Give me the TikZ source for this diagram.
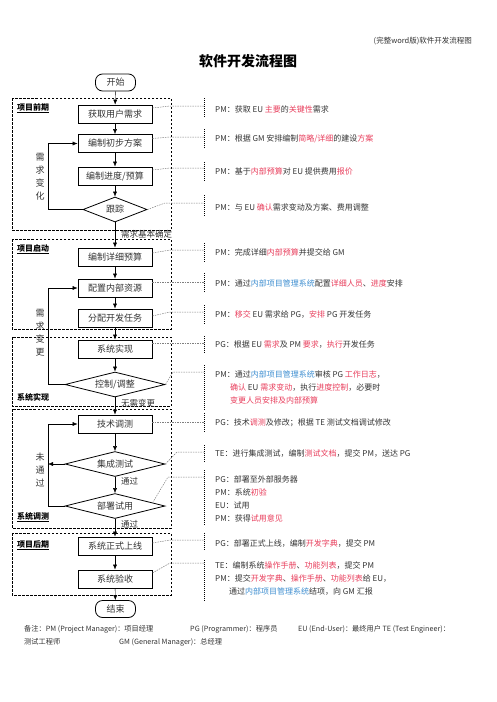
\documentclass[tikz,border=0pt]{standalone}
\usepackage{fontspec}
\setmainfont{Noto Sans CJK SC}
\usepackage{tikz}
\usetikzlibrary{shapes.geometric}
\usetikzlibrary{arrows.meta}
\tikzset{>={Latex[width=4pt,length=5pt]}}
\usepackage{color}
\definecolor{keyred}{RGB}{232,62,92}
\definecolor{keyblue}{RGB}{62,142,208}
\definecolor{ink}{RGB}{51,51,51}
\newcommand{\hl}[1]{\textcolor{keyred}{#1}}
\newcommand{\sys}[1]{\textcolor{keyblue}{#1}}
\tikzset{
  stepbox/.style={draw=black, line width=0.8pt, minimum width=74pt, minimum height=18pt,
    inner sep=0pt, text=ink, font=\fontsize{9pt}{9pt}\selectfont},
  choice/.style={diamond, aspect=4, draw=black, line width=0.8pt, minimum width=100pt,
    minimum height=25pt, inner sep=0pt, text=ink, font=\fontsize{9pt}{9pt}\selectfont},
  terminal/.style={draw=black, line width=0.8pt, rounded corners=7pt, minimum width=40pt,
    minimum height=17pt, inner sep=0pt, text=ink, font=\fontsize{9pt}{9pt}\selectfont},
  phase/.style={line width=0.8pt, dash pattern=on 2.5pt off 1.5pt},
  phasename/.style={anchor=west, inner sep=0pt, font=\fontsize{8pt}{8pt}\selectfont\bfseries},
  sidetag/.style={align=center, inner sep=0pt, text=ink, font=\fontsize{9pt}{13pt}\selectfont},
  flowtag/.style={anchor=west, inner sep=0pt, text=ink, font=\fontsize{8.5pt}{8.5pt}\selectfont},
  notebar/.style={line width=0.8pt, dash pattern=on 1pt off 1pt},
  notelink/.style={gray, line width=0.5pt, dash pattern=on 1.5pt off 1pt},
  notetext/.style={anchor=west, align=left, inner sep=0pt, text=ink,
    font=\fontsize{8pt}{13pt}\selectfont},
  footnote/.style={anchor=west, inner sep=0pt, text=ink, font=\fontsize{7.2pt}{7.2pt}\selectfont},
}

\begin{document}
\begin{tikzpicture}[x=1pt, y=-1pt]
    \useasboundingbox (0,0) rectangle (496,702);

    \node[anchor=east, inner sep=0pt, text=ink, font=\fontsize{7.5pt}{7.5pt}\selectfont] (doctag) at (472,41) {(完整word版)软件开发流程图};
    \node[font=\fontsize{14pt}{14pt}\selectfont\bfseries] (title) at (248,61) {软件开发流程图};

    % phases
    \draw[phase] (12,98) rectangle (171,230);
    \draw[phase] (12,239) rectangle (171,329);
    \draw[phase] (12,337) rectangle (171,406);
    \draw[phase] (12,409) rectangle (171,528);
    \draw[phase] (12,533) rectangle (171,595);
    \node[phasename] (ph-early) at (17,108) {\underline{项目前期}};
    \node[phasename] (ph-launch) at (17,249) {\underline{项目启动}};
    \node[phasename] (ph-impl) at (17,397) {系统实现};
    \node[phasename] (ph-test) at (17,517) {\underline{系统调测}};
    \node[phasename] (ph-late) at (17,545) {\underline{项目后期}};

    % main column
    \node[terminal] (start) at (115.5,82.5) {开始};
    \node[stepbox] (getreq) at (115,114) {获取用户需求};
    \node[stepbox] (plan) at (115,143.5) {编制初步方案};
    \node[stepbox] (sched) at (115,176) {编制进度/预算};
    \node[choice, minimum width=64pt] (track) at (115,209.5) {跟踪};
    \node[stepbox] (budget) at (115,257) {编制详细预算};
    \node[stepbox] (alloc) at (115,288) {配置内部资源};
    \node[stepbox] (assign) at (115,318) {分配开发任务};
    \node[stepbox] (impl) at (115,349) {系统实现};
    \node[choice] (ctrl) at (115,384.5) {控制/调整};
    \node[stepbox] (techtest) at (115,424) {技术调测};
    \node[choice] (integ) at (115,464) {集成测试};
    \node[choice] (deploy) at (115,506) {部署试用};
    \node[stepbox] (golive) at (115,546) {系统正式上线};
    \node[stepbox] (accept) at (115,579) {系统验收};
    \node[terminal] (finish) at (115.5,609) {结束};

    \coordinate (lx) at (48,0);
    \node[sidetag] (chg-a) at (40,177) {需\\求\\变\\化};
    \node[sidetag] (chg-b) at (40,333) {需\\求\\变\\更};
    \node[sidetag] (fail) at (40,470) {未\\通\\过};

    \draw[->] (start) -- (getreq);
    \draw[->] (getreq) -- (plan);
    \draw[->] (plan) -- (sched);
    \draw[->] (sched) -- (track);
    \draw[->] (track) -- (budget) node[flowtag] at (121,234) {需求基本确定};
    \draw[->] (budget) -- (alloc);
    \draw[->] (alloc) -- (assign);
    \draw[->] (assign) -- (impl);
    \draw[->] (impl) -- (ctrl);
    \draw[->] (ctrl) -- (techtest) node[flowtag] at (121,403) {无需变更};
    \draw[->] (techtest) -- (integ);
    \draw[->] (integ) -- (deploy) node[flowtag] at (121,481) {通过};
    \draw[->] (deploy) -- (golive) node[flowtag] at (121,524) {通过};
    \draw[->] (golive) -- (accept);
    \draw[->] (accept) -- (finish);

    % loops back
    \draw[->] (track.west) -- (track.west -| lx) |- (plan.west);
    \draw[->] (ctrl.west) -- (ctrl.west -| lx) |- (alloc.west);
    \draw[->] (deploy.west) -- (deploy.west -| lx) |- (techtest.west);
    \draw[->] (integ.west) -- (integ.west -| lx);

    % notes on the right
    \draw[notebar] (204,98) -- (204,118);
    \draw[notebar] (204,129) -- (204,149);
    \draw[notebar] (204,162) -- (204,182);
    \draw[notebar] (204,195) -- (204,217);
    \draw[notebar] (204,243) -- (204,263);
    \draw[notebar] (204,273) -- (204,292);
    \draw[notebar] (204,305) -- (204,324);
    \draw[notebar] (204,336) -- (204,354);
    \draw[notebar] (204,365) -- (204,410);
    \draw[notebar] (204,413) -- (204,433);
    \draw[notebar] (204,445) -- (204,462);
    \draw[notebar] (204,470) -- (204,526);
    \draw[notebar] (204,533) -- (204,550);
    \draw[notebar] (204,560) -- (204,602);

    \coordinate (l1) at (204,106);
    \coordinate (l2) at (204,137);
    \coordinate (l3) at (204,168);
    \coordinate (l4) at (204,203);
    \coordinate (l5) at (204,250);
    \coordinate (l6) at (204,282);
    \coordinate (l7) at (204,312);
    \coordinate (l8) at (204,343);
    \coordinate (l9) at (204,372);
    \coordinate (l10) at (204,422);
    \coordinate (l11) at (204,452);
    \coordinate (l12) at (204,477);
    \coordinate (l13) at (204,540);
    \coordinate (l14) at (204,563);

    \draw[notelink] ([yshift=6pt]getreq.east) -- ([xshift=-34pt]l1) -- (l1);
    \draw[notelink] ([yshift=5pt]plan.east) -- ([xshift=-34pt]l2) -- (l2);
    \draw[notelink] ([yshift=6pt]sched.east) -- ([xshift=-34pt]l3) -- (l3);
    \draw[notelink] (track.east) -- ([xshift=-39pt]l4) -- (l4);
    \draw[notelink] ([yshift=4pt]budget.east) -- ([xshift=-34pt]l5) -- (l5);
    \draw[notelink] ([yshift=6pt]alloc.east) -- ([xshift=-34pt]l6) -- (l6);
    \draw[notelink] ([yshift=2pt]assign.east) -- ([xshift=-34pt]l7) -- (l7);
    \draw[notelink] ([yshift=6pt]impl.east) -- (l8);
    \draw[notelink] (ctrl.east) -- ([xshift=-31pt]l9) -- (l9);
    \draw[notelink] ([yshift=2pt]techtest.east) -- (l10);
    \draw[notelink] (integ.east) -- ([xshift=-27pt]l11) -- (l11);
    \draw[notelink] (deploy.5) -- ([xshift=-36pt]l12) -- (l12);
    \draw[notelink] ([yshift=3pt]golive.east) -- ([xshift=-34pt]l13) -- (l13);
    \draw[notelink] ([yshift=6pt]accept.east) -- ([xshift=-34pt]l14) -- (l14);

    \node[notetext] (n1) at (215,109) {PM：获取 EU \hl{主要}的\hl{关键性}需求};
    \node[notetext] (n2) at (215,139) {PM：根据 GM 安排编制\hl{简略/详细}的建设\hl{方案}};
    \node[notetext] (n3) at (215,171) {PM：基于\hl{内部预算}对 EU 提供费用\hl{报价}};
    \node[notetext] (n4) at (215,207) {PM：与 EU \hl{确认}需求变动及方案、费用调整};
    \node[notetext] (n5) at (215,252) {PM：完成详细\hl{内部预算}并提交给 GM};
    \node[notetext] (n6) at (215,283) {PM：通过\sys{内部项目管理系统}配置\hl{详细人员}、\hl{进度}安排};
    \node[notetext] (n7) at (215,315) {PM：\hl{移交} EU 需求给 PG，\hl{安排} PG 开发任务};
    \node[notetext] (n8) at (215,345) {PG：根据 EU \hl{需求}及 PM \hl{要求}，\hl{执行}开发任务};
    \node[notetext] (n9) at (215,387.5) {PM：通过\sys{内部项目管理系统}审核 PG \hl{工作日志}，\\
      \hspace*{15pt}\hl{确认} EU \hl{需求变动}，执行\hl{进度控制}，必要时\\
      \hspace*{15pt}\hl{变更人员安排及内部预算}};
    \node[notetext] (n10) at (215,423) {PG：技术\hl{调测}及修改；根据 TE 测试文档调试修改};
    \node[notetext] (n11) at (215,454) {TE：进行集成测试，编制\hl{测试文档}，提交 PM，送达 PG};
    \node[notetext] (n12) at (215,498.5) {PG：部署至外部服务器\\PM：系统\hl{初验}\\EU：试用\\PM：获得\hl{试用意见}};
    \node[notetext] (n13) at (215,544) {PG：部署正式上线，编制\hl{开发字典}，提交 PM};
    \node[notetext] (n14) at (215,578.5) {TE：编制系统\hl{操作手册}、\hl{功能列表}，提交 PM\\
      PM：提交\hl{开发字典}、\hl{操作手册}、\hl{功能列表}给 EU，\\
      \hspace*{14pt}通过\sys{内部项目管理系统}结项，向 GM 汇报};

    % remark
    \node[footnote] (fn1) at (24,629) {备注：PM (Project Manager)：项目经理};
    \node[footnote] (fn2) at (190,629) {PG (Programmer)：程序员};
    \node[footnote] (fn3) at (298,629) {EU (End-User)：最终用户 TE (Test Engineer)：};
    \node[footnote] (fn4) at (24,642) {测试工程师};
    \node[footnote] (fn5) at (119,642) {GM (General Manager)：总经理};

  \end{tikzpicture}
\end{document}
